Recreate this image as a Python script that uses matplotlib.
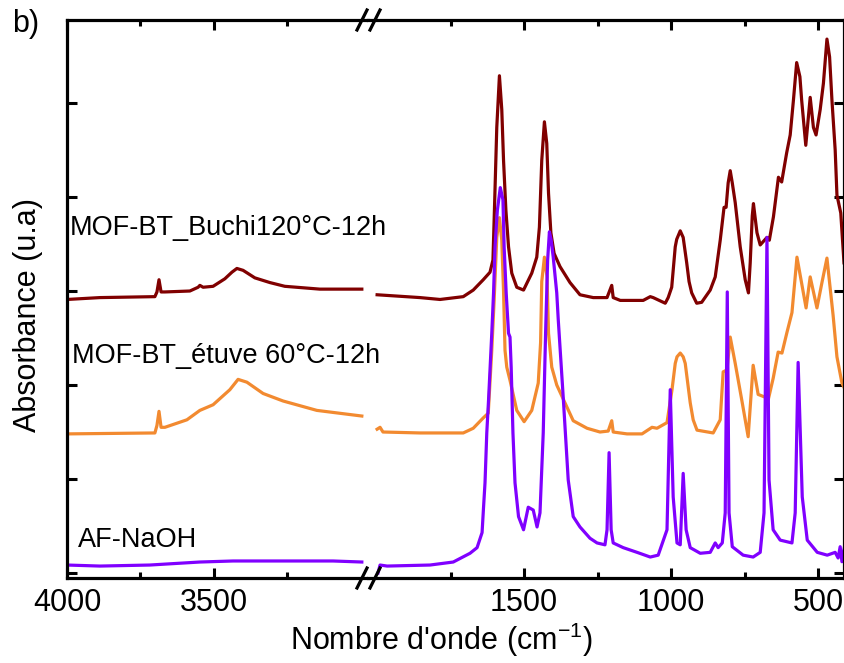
import numpy as np
import matplotlib
matplotlib.use('Agg')
import matplotlib.pyplot as plt
from matplotlib.ticker import FixedLocator, NullFormatter
from matplotlib.lines import Line2D

plt.rcParams['font.family'] = ['Liberation Sans', 'DejaVu Sans']
plt.rcParams['mathtext.fontset'] = 'custom'
plt.rcParams['mathtext.rm'] = 'Liberation Sans'

# ============================================================
# Données (nombre d'onde cm-1, absorbance décalée u.a)
# ============================================================
# MOF-BT_Buchi120°C-12h
buchi_hi_wn = [4000, 3888, 3701, 3694, 3687, 3680, 3667, 3582, 3554, 3548, 3537,
               3503, 3463, 3439, 3422, 3401, 3361, 3310, 3259, 3140, 2997]
buchi_hi_ab = [2.91, 2.93, 2.94, 2.99, 3.12, 2.99, 2.99, 3.00, 3.04, 3.06, 3.04,
               3.05, 3.13, 3.20, 3.24, 3.22, 3.14, 3.09, 3.05, 3.02, 3.02]
buchi_lo_wn = [2000, 1854, 1786, 1707, 1673, 1639, 1616, 1606, 1601, 1593,
               1584, 1576, 1570, 1562, 1553, 1542, 1525, 1502, 1474, 1457,
               1448, 1440, 1431, 1423, 1417, 1409, 1398, 1378, 1344, 1310,
               1265, 1218, 1202, 1197, 1173, 1095, 1071, 1061, 1020, 1010,
               998, 986, 981, 969, 959, 947, 939, 930, 913, 896,
               867, 850, 833, 820, 813, 806, 799, 792, 782, 765,
               748, 737, 731, 724, 720, 715, 708, 697, 674, 666,
               652, 635, 624, 607, 595, 584, 573, 562, 556, 542,
               527, 516, 507, 493, 482, 470, 461, 453, 442, 436, 423, 412]
buchi_lo_ab = [2.96, 2.93, 2.91, 2.94, 3.01, 3.12, 3.20, 3.33, 3.86, 4.74,
               5.29, 4.93, 4.39, 3.86, 3.47, 3.19, 3.04, 3.01, 3.19, 3.36,
               3.68, 4.39, 4.80, 4.57, 4.04, 3.62, 3.40, 3.26, 3.09, 2.96,
               2.93, 2.93, 3.06, 2.93, 2.90, 2.90, 2.94, 2.93, 2.87, 2.93,
               3.04, 3.47, 3.55, 3.64, 3.57, 3.30, 3.10, 2.98, 2.87, 2.88,
               3.01, 3.15, 3.54, 3.89, 3.89, 4.15, 4.28, 4.15, 3.94, 3.47,
               3.12, 2.98, 3.30, 3.80, 3.93, 3.80, 3.62, 3.49, 3.57, 3.54,
               3.79, 4.21, 4.16, 4.47, 4.66, 5.03, 5.43, 5.28, 5.03, 4.55,
               5.06, 4.74, 4.66, 4.93, 5.21, 5.68, 5.49, 5.03, 4.50, 4.02, 3.83, 3.30]

# MOF-BT_étuve 60°C-12h
etuve_hi_wn = [4000, 3701, 3694, 3687, 3680, 3667, 3592, 3548, 3503, 3446, 3418,
               3388, 3333, 3265, 3150, 2997]
etuve_hi_ab = [1.48, 1.49, 1.57, 1.72, 1.55, 1.55, 1.63, 1.73, 1.79, 1.95, 2.06,
               2.03, 1.91, 1.83, 1.73, 1.67]
etuve_lo_wn = [2000, 1990, 1980, 1854, 1707, 1673, 1639, 1622, 1610, 1602,
               1593, 1584, 1576, 1570, 1565, 1559, 1548, 1525, 1500, 1474,
               1452, 1444, 1440, 1431, 1422, 1417, 1406, 1389, 1361, 1333,
               1286, 1242, 1214, 1202, 1197, 1150, 1099, 1065, 1048, 1014,
               997, 986, 980, 969, 959, 952, 935, 925, 912, 857,
               833, 823, 810, 799, 782, 758, 738, 721, 704, 680,
               670, 653, 636, 623, 606, 589, 572, 541, 527, 504,
               487, 470, 449, 436, 419, 408]
etuve_lo_ab = [1.53, 1.55, 1.50, 1.49, 1.49, 1.54, 1.65, 1.70, 2.37, 2.90,
               3.57, 3.78, 3.54, 3.00, 2.37, 2.19, 2.05, 1.73, 1.61, 1.73,
               2.02, 2.45, 3.10, 3.36, 3.15, 2.55, 2.19, 2.00, 1.81, 1.62,
               1.54, 1.50, 1.51, 1.62, 1.50, 1.48, 1.48, 1.55, 1.54, 1.60,
               1.95, 2.23, 2.30, 2.34, 2.30, 2.23, 1.81, 1.63, 1.52, 1.49,
               1.63, 2.14, 2.16, 2.51, 2.23, 1.81, 1.45, 2.21, 1.90, 1.87,
               1.84, 2.07, 2.35, 2.34, 2.56, 2.77, 3.36, 2.82, 3.15, 2.82,
               3.09, 3.35, 2.74, 2.30, 2.02, 1.95]

# AF-NaOH
naoh_hi_wn = [4000, 3888, 3718, 3548, 3435, 3265, 3095, 2997]
naoh_hi_ab = [0.085, 0.074, 0.085, 0.117, 0.128, 0.128, 0.128, 0.117]
naoh_lo_wn = [1997, 1990, 1966, 1820, 1741, 1684, 1660, 1643, 1638, 1633,
              1627, 1621, 1610, 1604, 1599, 1591, 1581, 1572, 1568, 1561,
              1553, 1548, 1544, 1538, 1531, 1519, 1502, 1486, 1469, 1456,
              1446, 1435, 1427, 1420, 1414, 1408, 1401, 1389, 1384, 1367,
              1350, 1333, 1310, 1276,
              1252, 1225, 1218, 1211, 1204, 1197, 1163, 1116, 1071, 1044,
              1014, 1003, 993, 980, 969, 959, 949, 935, 901, 867,
              850, 840, 826, 816, 809, 803, 792, 755, 721, 697,
              684, 674, 667, 653, 629, 589, 578, 568, 554, 537,
              503, 469, 442, 432, 425, 419, 408]
naoh_lo_ab = [0.0, 0.085, 0.074, 0.085, 0.117, 0.21, 0.27, 0.43, 0.70, 0.96,
              1.49, 1.84, 2.55, 2.98, 3.47, 3.86, 4.10, 3.97, 3.47, 2.98,
              2.55, 2.51, 2.19, 1.49, 0.96, 0.60, 0.46, 0.70, 0.67, 0.49,
              0.64, 1.49, 2.55, 3.33, 3.63, 3.54, 3.36, 2.98, 2.70, 1.87,
              0.99, 0.60, 0.49, 0.37,
              0.32, 0.30, 0.46, 1.28, 0.46, 0.32, 0.27, 0.22, 0.17, 0.19,
              0.46, 1.95, 0.81, 0.32, 0.30, 1.06, 0.46, 0.27, 0.21, 0.22,
              0.32, 0.27, 0.32, 0.64, 2.99, 0.64, 0.28, 0.19, 0.17, 0.22,
              0.64, 3.57, 0.99, 0.46, 0.35, 0.32, 0.64, 2.24, 0.81, 0.35,
              0.22, 0.19, 0.22, 0.16, 0.28, 0.12, 0.32]

series = [
    ('MOF-BT_Buchi120°C-12h', '#800000', buchi_hi_wn, buchi_hi_ab, buchi_lo_wn, buchi_lo_ab),
    ('MOF-BT_étuve 60°C-12h', '#F28A30', etuve_hi_wn, etuve_hi_ab, etuve_lo_wn, etuve_lo_ab),
    ('AF-NaOH', '#8000FF', naoh_hi_wn, naoh_hi_ab, naoh_lo_wn, naoh_lo_ab),
]

# ============================================================
# Figure : axe x coupé (4000-2976 | 2031-412)
# ============================================================
W, H = 845, 663
fig = plt.figure(figsize=(W / 100, H / 100), dpi=100)

y_bot, y_top = 578, 20
axL = fig.add_axes([67 / W, (H - y_bot) / H, (368 - 67) / W, (y_bot - y_top) / H])
axR = fig.add_axes([368 / W, (H - y_bot) / H, (844 - 368) / W, (y_bot - y_top) / H])

for name, col, hw, ha, lw_, la in series:
    axL.plot(hw, ha, color=col, lw=2.3, solid_joinstyle='round')
    axR.plot(lw_, la, color=col, lw=2.3, solid_joinstyle='round')

axL.set_xlim(4000, 2976)
axR.set_xlim(2031, 412)
for ax in (axL, axR):
    ax.set_ylim(-0.053, 5.883)
    ax.yaxis.set_major_locator(FixedLocator([0, 1, 2, 3, 4, 5]))
    ax.yaxis.set_major_formatter(NullFormatter())
    for s in ax.spines.values():
        s.set_linewidth(2.3)
    ax.tick_params(which='major', direction='in', length=7, width=2.2,
                   labelsize=22, pad=7, top=True)
    ax.tick_params(which='minor', direction='in', length=4, width=2.2, top=True)

axL.xaxis.set_major_locator(FixedLocator([4000, 3500]))
axL.xaxis.set_minor_locator(FixedLocator([3750, 3250]))
axR.xaxis.set_major_locator(FixedLocator([1500, 1000, 500]))
axR.xaxis.set_minor_locator(FixedLocator([1750, 1250, 750]))

axL.spines['right'].set_visible(False)
axR.spines['left'].set_visible(False)
axL.tick_params(which='both', left=True, right=False)
axR.tick_params(which='both', left=False, right=True, labelleft=False)

# marques de coupure //
for yb in (y_top, y_bot):
    for xc in (362, 375):
        fig.add_artist(Line2D([(xc - 5) / W, (xc + 5) / W],
                              [1 - (yb + 10) / H, 1 - (yb - 10) / H],
                              color='black', lw=2.3, transform=fig.transFigure))

# textes
fig.text(441 / W, 1 - 640 / H, "Nombre d'onde (cm$^{\\mathregular{-1}}$)",
         ha='center', va='center', fontsize=22)
fig.text(28 / W, 1 - 315 / H, 'Absorbance (u.a)', rotation=90,
         ha='center', va='center', fontsize=22)
fig.text(12 / W, 1 - 24 / H, 'b)', ha='left', va='center', fontsize=22)

fig.text(70 / W, 1 - 235 / H, series[0][0], ha='left', va='baseline', fontsize=19.5)
fig.text(72 / W, 1 - 363 / H, series[1][0], ha='left', va='baseline', fontsize=19.5)
fig.text(78 / W, 1 - 547 / H, series[2][0], ha='left', va='baseline', fontsize=19.5)

fig.savefig('out.png', dpi=100)
plt.close()
